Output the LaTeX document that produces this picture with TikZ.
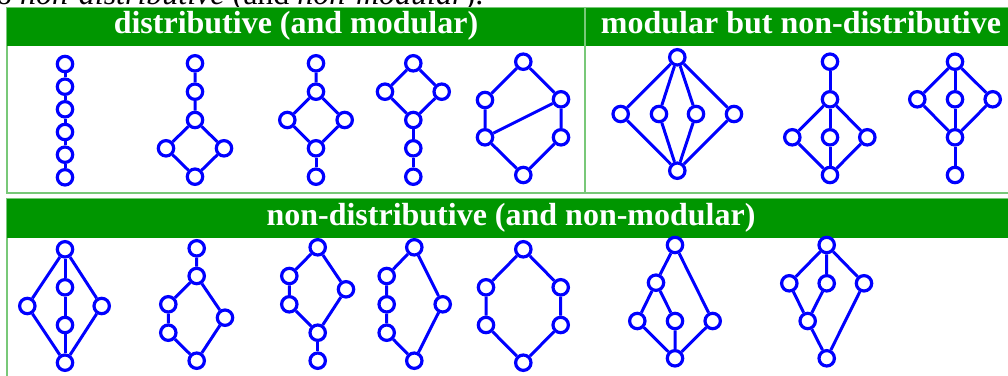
\documentclass[tikz,border=0pt]{standalone}
\usepackage{amsmath}
\usepackage{fontspec}
\setmainfont{Liberation Serif}
\usepackage{tikz}

\definecolor{hdrgreen}{RGB}{0,150,0}
\definecolor{rulegreen}{RGB}{120,200,120}
\definecolor{latblue}{RGB}{0,0,255}

\tikzset{
  elt/.style={circle, draw=latblue, fill=white, line width=3.2pt,
    inner sep=0pt, minimum size=15.4pt},
  cover/.style={draw=latblue, line width=3pt},
  hdrtext/.style={text=white, anchor=base, inner sep=0pt,
    font=\fontsize{32}{36}\selectfont\bfseries},
  panelrule/.style={draw=rulegreen, line width=1.5pt}
}

\begin{document}
\begin{tikzpicture}[x=1pt,y=-1pt]
\useasboundingbox (0,0) rectangle (1008,375);
% line of text above, cut off
\node[anchor=base west, inner sep=0pt, font=\fontsize{32}{36}\selectfont]
  (intro) at (-4,4) {o \emph{non-distributive} (and \emph{non-modular}).};
% the two panels
\draw[panelrule] (7,8) rectangle (1015,193);
\fill[hdrgreen] (7,8) rectangle (1015,46);
\draw[panelrule] (585,8) -- (585,193);
\draw[panelrule] (7,199) rectangle (1015,400);
\fill[hdrgreen] (7,199) rectangle (1015,238);
\node[hdrtext] (hdist) at (296,33.5) {distributive (and modular)};
\node[hdrtext] (hmod) at (801,33.5) {modular but non-distributive};
\node[hdrtext] (hnon) at (511,225) {non-distributive (and non-modular)};

% distributive: chain
\foreach \i/\y in {1/64,2/86.7,3/109.3,4/132,5/154.7,6/177.3}
  \node[elt] (c\i) at (65,\y) {};
\foreach \i [evaluate=\i as \j using int(\i+1)] in {1,...,5}
  \draw[cover] (c\i) -- (c\j);

% chain on a square
\node[elt] (p1) at (195,63.3) {};
\node[elt] (p2) at (195,91.7) {};
\node[elt] (p3) at (195,120) {};
\node[elt] (p4) at (166,148.3) {};
\node[elt] (p5) at (224,148.3) {};
\node[elt] (p6) at (195,176.7) {};
\draw[cover] (p1) -- (p2) -- (p3) -- (p4) -- (p6) -- (p5) -- (p3);

% square in the middle
\node[elt] (q1) at (316,63.3) {};
\node[elt] (q2) at (316,91.7) {};
\node[elt] (q3) at (287.3,120) {};
\node[elt] (q4) at (344.7,120) {};
\node[elt] (q5) at (316,148.3) {};
\node[elt] (q6) at (316,176.7) {};
\draw[cover] (q1) -- (q2) -- (q3) -- (q5) -- (q4) -- (q2);
\draw[cover] (q5) -- (q6);

% square on a chain
\node[elt] (r1) at (413.3,63.3) {};
\node[elt] (r2) at (385,91.7) {};
\node[elt] (r3) at (441.7,91.7) {};
\node[elt] (r4) at (413.3,120) {};
\node[elt] (r5) at (413.3,148.3) {};
\node[elt] (r6) at (413.3,176.7) {};
\draw[cover] (r1) -- (r2) -- (r4) -- (r3) -- (r1);
\draw[cover] (r4) -- (r5) -- (r6);

% 2 x 3
\node[elt] (s1) at (523.3,61.7) {};
\node[elt] (s2) at (485,100) {};
\node[elt] (s3) at (561,99.3) {};
\node[elt] (s4) at (485,137.3) {};
\node[elt] (s5) at (561,137.3) {};
\node[elt] (s6) at (523.3,175) {};
\draw[cover] (s1) -- (s2) -- (s4) -- (s6) -- (s5) -- (s3) -- (s1);
\draw[cover] (s4) -- (s3);

% modular: M4
\node[elt] (m1) at (677.3,57.3) {};
\node[elt] (m2) at (620.7,114) {};
\node[elt] (m3) at (659,114) {};
\node[elt] (m4) at (696,114) {};
\node[elt] (m5) at (734,114) {};
\node[elt] (m6) at (677.3,170.7) {};
\foreach \i in {2,...,5}
  \draw[cover] (m1) -- (m\i) -- (m6);

% M3 below a point
\node[elt] (t1) at (830,61.7) {};
\node[elt] (t2) at (830,99.3) {};
\node[elt] (t3) at (792.3,137.3) {};
\node[elt] (t4) at (830,137.3) {};
\node[elt] (t5) at (867.3,137.3) {};
\node[elt] (t6) at (830,175) {};
\draw[cover] (t1) -- (t2);
\foreach \i in {3,4,5}
  \draw[cover] (t2) -- (t\i) -- (t6);

% M3 above a point
\node[elt] (u1) at (955,61.7) {};
\node[elt] (u2) at (917.3,99.3) {};
\node[elt] (u3) at (955,99.3) {};
\node[elt] (u4) at (992.7,99.3) {};
\node[elt] (u5) at (955,137.3) {};
\node[elt] (u6) at (955,175) {};
\foreach \i in {2,3,4}
  \draw[cover] (u1) -- (u\i) -- (u5);
\draw[cover] (u5) -- (u6);

% non-distributive
\node[elt] (n1) at (65,249.3) {};
\node[elt] (n2) at (27.3,306) {};
\node[elt] (n3) at (65,287.3) {};
\node[elt] (n4) at (65,325) {};
\node[elt] (n5) at (101.7,306) {};
\node[elt] (n6) at (65,362.7) {};
\draw[cover] (n1) -- (n2) -- (n6) -- (n5) -- (n1);
\draw[cover] (n1) -- (n3) -- (n4) -- (n6);

\node[elt] (v1) at (196.7,248.3) {};
\node[elt] (v2) at (196.7,276) {};
\node[elt] (v3) at (168.3,304.3) {};
\node[elt] (v4) at (168.3,332.7) {};
\node[elt] (v5) at (225,317.7) {};
\node[elt] (v6) at (196.7,360.7) {};
\draw[cover] (v1) -- (v2) -- (v3) -- (v4) -- (v6) -- (v5) -- (v2);

\node[elt] (w1) at (317.7,247.3) {};
\node[elt] (w2) at (289.3,276) {};
\node[elt] (w3) at (289.3,304.3) {};
\node[elt] (w4) at (346,289.3) {};
\node[elt] (w5) at (317.7,332.7) {};
\node[elt] (w6) at (317.7,360.7) {};
\draw[cover] (w1) -- (w2) -- (w3) -- (w5) -- (w4) -- (w1);
\draw[cover] (w5) -- (w6);

\node[elt] (x1) at (414.3,247.3) {};
\node[elt] (x2) at (386.7,276) {};
\node[elt] (x3) at (386.7,304.3) {};
\node[elt] (x4) at (386.7,332.7) {};
\node[elt] (x5) at (442.7,304.3) {};
\node[elt] (x6) at (414.3,360.7) {};
\draw[cover] (x1) -- (x2) -- (x3) -- (x4) -- (x6) -- (x5) -- (x1);

\node[elt] (h1) at (523.3,249.3) {};
\node[elt] (h2) at (486,287.3) {};
\node[elt] (h3) at (486,325) {};
\node[elt] (h4) at (560.7,287.3) {};
\node[elt] (h5) at (560.7,325) {};
\node[elt] (h6) at (523.3,362.7) {};
\draw[cover] (h1) -- (h2) -- (h3) -- (h6) -- (h5) -- (h4) -- (h1);

\node[elt] (k1) at (675,245) {};
\node[elt] (k2) at (656,282.7) {};
\node[elt] (k3) at (637.3,321) {};
\node[elt] (k4) at (675,321) {};
\node[elt] (k5) at (712.7,321) {};
\node[elt] (k6) at (675,358.3) {};
\draw[cover] (k1) -- (k2) -- (k3) -- (k6) -- (k5) -- (k1);
\draw[cover] (k2) -- (k4) -- (k6);

\node[elt] (g1) at (826.7,245) {};
\node[elt] (g2) at (789.3,283.3) {};
\node[elt] (g3) at (826.7,283.3) {};
\node[elt] (g4) at (864,283.3) {};
\node[elt] (g5) at (807.7,321) {};
\node[elt] (g6) at (826.7,358.3) {};
\draw[cover] (g1) -- (g2) -- (g5) -- (g6) -- (g4) -- (g1);
\draw[cover] (g1) -- (g3) -- (g5);
\end{tikzpicture}
\end{document}
